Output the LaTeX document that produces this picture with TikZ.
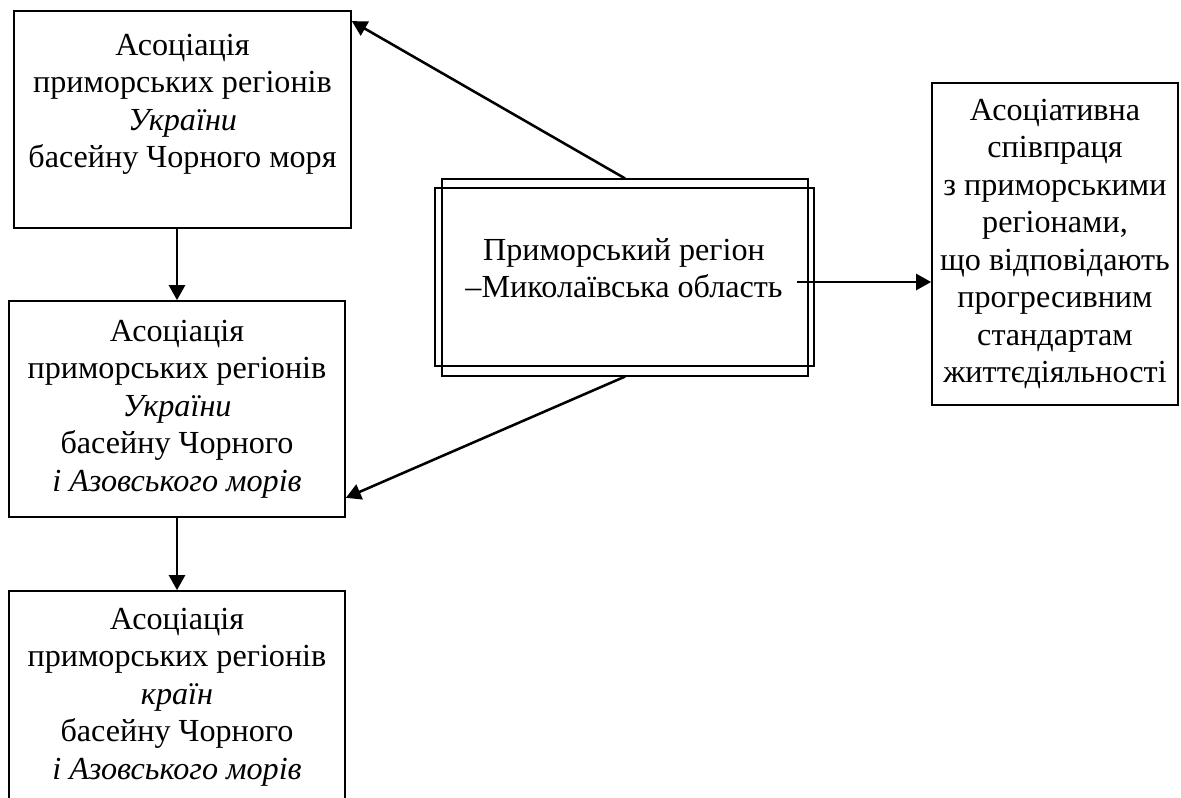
\documentclass[tikz,border=0pt]{standalone}
\usepackage{fontspec}
\setmainfont{Liberation Serif}
\usetikzlibrary{arrows.meta,positioning}
\begin{document}
\begin{tikzpicture}[x=0.02cm,y=-0.02cm]
        \tikzstyle{every node}= [font=\fontsize{18.3}{21.3}\selectfont, align=center, inner sep=0pt];
        \tikzstyle{box}= [draw, line width=1pt];
        \tikzstyle{arr}= [line width=1.45pt, -{Triangle[length=0.3cm,width=0.32cm]}];
        \useasboundingbox (0,0) rectangle (1181,798);

        % left column
        \node[box, minimum width=6.74cm, minimum height=4.34cm] (ua) at (182.5,119.5)
          {Асоціація\\приморських регіонів\\\textit{України}\\басейну Чорного моря\\~};
        \node[box, minimum width=6.72cm, minimum height=4.32cm] (uaa) at (177,409)
          {Асоціація\\приморських регіонів\\\textit{України}\\басейну Чорного\\\textit{і Азовського морів}};
        \node[box, minimum width=6.72cm, minimum height=4.24cm] (bsa) at (177,697)
          {Асоціація\\приморських регіонів\\\textit{країн}\\басейну Чорного\\\textit{і Азовського морів}};

        % centre, double frame
        \node[draw, line width=0.7pt, minimum width=7.32cm, minimum height=3.94cm] (regframe) at (625,277.5) {};
        \node[draw, line width=1.3pt, minimum width=7.58cm, minimum height=3.56cm] (reg) at (624.5,277) {};
        \node (regtxt) at (624,268) {Приморський регіон\\–Миколаївська область};
        \coordinate (exit) at (797,282);

        % right
        \node[box, minimum width=4.92cm, minimum height=6.44cm] (coop) at (1055,244)
          {Асоціативна\\співпраця\\з приморськими\\регіонами,\\що відповідають\\прогресивним\\стандартам\\життєдіяльності};

        \draw[arr] (ua.south -| uaa) -- (uaa.north);
        \draw[arr] (uaa) -- (bsa);
        \draw[arr] (regframe.north) -- ([yshift=-0.22cm]ua.north east);
        \draw[arr] (regframe.south) -- ([yshift=0.4cm]uaa.south east);
        \draw[arr] (exit) -- (exit -| coop.west);
        %\draw[dashed] (0,0) rectangle (1181,798);
      \end{tikzpicture}
\end{document}
